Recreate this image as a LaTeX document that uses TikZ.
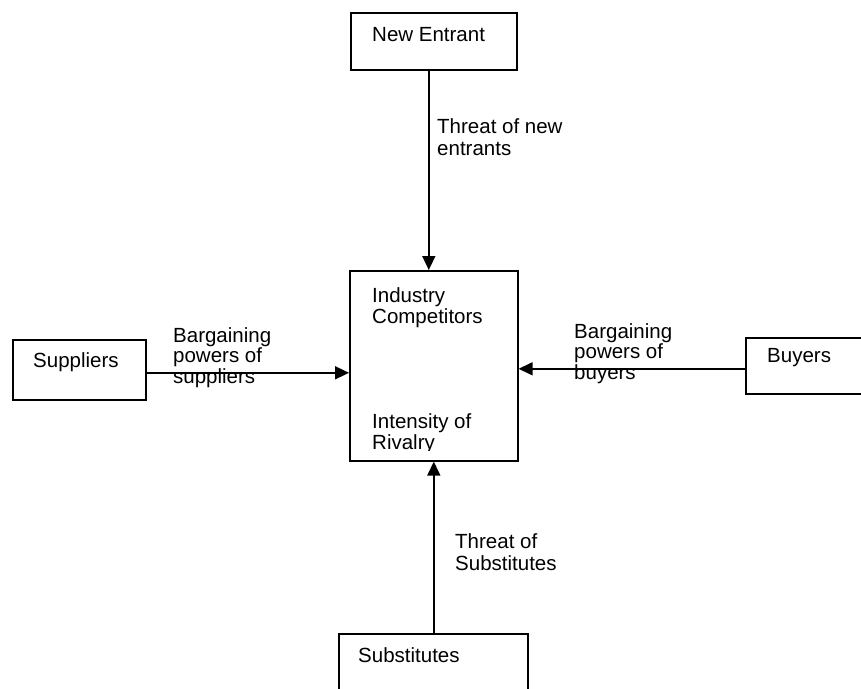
\documentclass[tikz,border=0pt]{standalone}
\usepackage{fontspec}
\setmainfont{Liberation Sans}
\usetikzlibrary{arrows.meta}
\begin{document}
\begin{tikzpicture}[x=1pt,y=-1pt,
  box/.style={draw, line width=1.6pt, anchor=north west, inner sep=0pt},
  lab/.style={anchor=north west, inner sep=0pt, align=left, font=\fontsize{20.5}{21.5}\selectfont},
  wide/.style={font=\fontsize{20.5}{22.5}\selectfont},
  tight/.style={font=\fontsize{20.5}{20.5}\selectfont},
  arr/.style={line width=1.6pt, -{Triangle[length=14pt,width=13pt]}}]
\useasboundingbox (0,0) rectangle (861,688);
\fill[white] (0,0) rectangle (861,688);
% boxes
\node[box, minimum width=166pt, minimum height=57pt] (ne) at (350,12) {};
\node[box, minimum width=168pt, minimum height=190pt] (ic) at (349,270) {};
\node[box, minimum width=133pt, minimum height=60pt] (sup) at (12,339) {};
\node[box, minimum width=125pt, minimum height=56pt] (buy) at (745,337) {};
\node[box, minimum width=189pt, minimum height=60pt] (sub) at (338,633) {};
% box texts
\node[lab] (tne) at (372,27) {New Entrant};
\node[lab] (tic1) at (372,287) {Industry\\Competitors};
\begin{scope}
  \clip (350,400) rectangle (515,450);
  \node[lab] (tic2) at (372,413) {Intensity of\\Rivalry};
\end{scope}
\node[lab] (tsup) at (33,352) {Suppliers};
\node[lab] (tbuy) at (767,348) {Buyers};
\node[lab] (tsub) at (358,647) {Substitutes};
% connectors
\draw[arr] ([xshift=-5pt]ne.south) -- ([xshift=-5pt]ic.north);
\draw[arr] (sub.north -| ic.south) -- (ic.south);
\draw[arr] ([yshift=-3pt]sup.east) -- ([yshift=-3pt]sup.east -| ic.west);
\draw[arr] ([yshift=-3pt]buy.west) -- ([yshift=-3pt]buy.west -| ic.east);
% connector labels
\node[lab, wide] (lne) at (437,118) {Threat of new\\entrants};
\node[lab, wide] (lsub) at (455,533) {Threat of\\Substitutes};
\node[lab, tight] (lsup) at (173,327) {Bargaining\\powers of\\suppliers};
\node[lab, tight] (lbuy) at (574,323) {Bargaining\\powers of\\buyers};
\end{tikzpicture}
\end{document}
